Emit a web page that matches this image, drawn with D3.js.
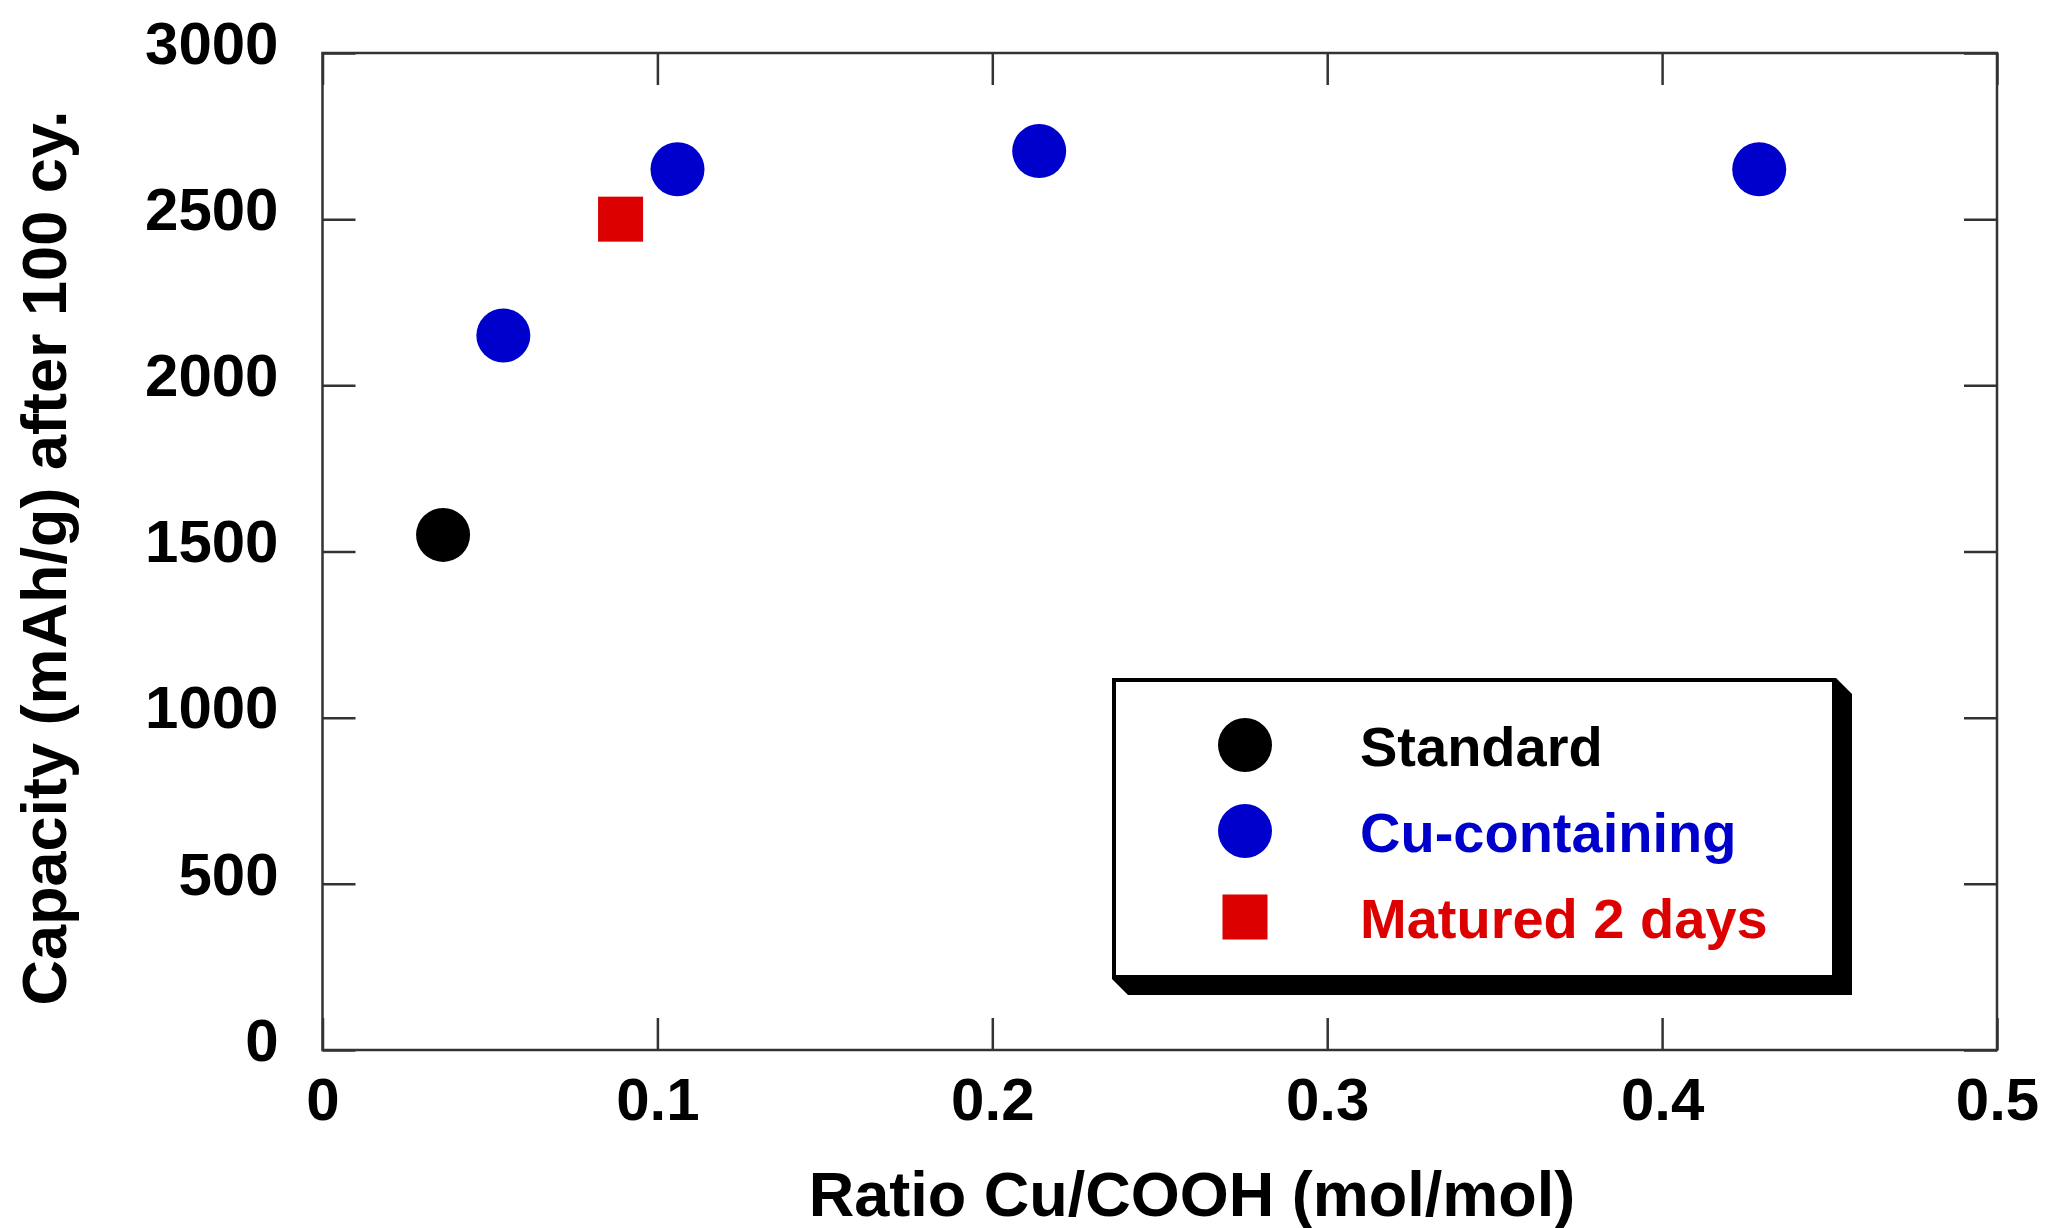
<!DOCTYPE html>
<html>
<head>
<meta charset="utf-8">
<script src="https://cdn.jsdelivr.net/npm/d3@7"></script>
<style>
  html, body { margin: 0; padding: 0; background: #fff; }
  svg text { font-family: "Liberation Sans", Arial, sans-serif; font-weight: bold; }
</style>
</head>
<body>
<svg id="chart" width="2046" height="1228"></svg>
<script>
// Data
const standardX = [0.036];
const standardY = [1550];
const cuX = [0.054, 0.106, 0.214, 0.429];
const cuY = [2150, 2650, 2705, 2650];
const maturedX = [0.089];
const maturedY = [2500];

const xTicks = [0, 0.1, 0.2, 0.3, 0.4, 0.5];
const yTicks = [0, 500, 1000, 1500, 2000, 2500, 3000];
const legendLabels = ['Standard', 'Cu-containing', 'Matured 2 days'];

const BLUE = '#0000CC', RED = '#DD0000', BLACK = '#000000';

const svg = d3.select('#chart');
const pL = 322.5, pR = 1997, pT = 53, pB = 1050;

const x = d3.scaleLinear().domain([0, 0.5]).range([pL, pR]);
const y = d3.scaleLinear().domain([0, 3000]).range([pB, pT]);

const fmtX = d => d === 0 ? '0' : d3.format('.1f')(d);
const fmtY = d3.format('d');

// Axes — inward ticks on all four sides
const axX = svg.append('g').attr('transform', `translate(0,${pB})`)
  .call(d3.axisBottom(x).tickValues(xTicks).tickSize(-32).tickPadding(27).tickFormat(fmtX));
const axXT = svg.append('g').attr('transform', `translate(0,${pT})`)
  .call(d3.axisTop(x).tickValues(xTicks).tickSize(-32).tickFormat(''));
const axY = svg.append('g').attr('transform', `translate(${pL},0)`)
  .call(d3.axisLeft(y).tickValues(yTicks).tickSize(-33).tickPadding(44).tickFormat(fmtY));
const axYR = svg.append('g').attr('transform', `translate(${pR},0)`)
  .call(d3.axisRight(y).tickValues(yTicks).tickSize(-33).tickFormat(''));

[axX, axXT, axY, axYR].forEach(a => {
  a.select('.domain').remove();
  a.selectAll('.tick line').attr('stroke', '#333').attr('stroke-width', 2.5);
  a.selectAll('.tick text').attr('fill', '#000').attr('font-size', 60);
});
axY.selectAll('.tick text').attr('dy', '0.17em');

// Frame
svg.append('rect')
  .attr('x', pL).attr('y', pT)
  .attr('width', pR - pL).attr('height', pB - pT)
  .attr('fill', 'none').attr('stroke', '#333').attr('stroke-width', 2.5);

// Axis titles
svg.append('text')
  .attr('x', 1192).attr('y', 1216)
  .attr('text-anchor', 'middle').attr('font-size', 63).attr('fill', '#000')
  .text('Ratio Cu/COOH (mol/mol)');

svg.append('text')
  .attr('transform', 'translate(66,558) rotate(-90)')
  .attr('text-anchor', 'middle').attr('font-size', 63).attr('fill', '#000')
  .text('Capacity (mAh/g) after 100 cy.');

// Markers
const R = 27, SQ = 45;
const plot = svg.append('g');

plot.selectAll('circle.std')
  .data(standardX.map((v, i) => [v, standardY[i]]))
  .join('circle').attr('class', 'std')
  .attr('cx', d => x(d[0])).attr('cy', d => y(d[1])).attr('r', R)
  .attr('fill', BLACK);

plot.selectAll('circle.cu')
  .data(cuX.map((v, i) => [v, cuY[i]]))
  .join('circle').attr('class', 'cu')
  .attr('cx', d => x(d[0])).attr('cy', d => y(d[1])).attr('r', R)
  .attr('fill', BLUE);

plot.selectAll('rect.mat')
  .data(maturedX.map((v, i) => [v, maturedY[i]]))
  .join('rect').attr('class', 'mat')
  .attr('x', d => x(d[0]) - SQ / 2).attr('y', d => y(d[1]) - SQ / 2)
  .attr('width', SQ).attr('height', SQ)
  .attr('fill', RED);

// Legend box with 3D shadow
const lx0 = 1112, ly0 = 678, lx1 = 1836, ly1 = 979, sh = 16;
const lg = svg.append('g');
lg.append('path')
  .attr('d', `M${lx1},${ly0} L${lx1 + sh},${ly0 + sh} L${lx1 + sh},${ly1 + sh} ` +
             `L${lx0 + sh},${ly1 + sh} L${lx0},${ly1} Z`)
  .attr('fill', '#000');
lg.append('rect')
  .attr('x', lx0 + 2).attr('y', ly0 + 2)
  .attr('width', lx1 - lx0 - 4).attr('height', ly1 - ly0 - 4)
  .attr('fill', '#fff').attr('stroke', '#000').attr('stroke-width', 4);

const legendColors = [BLACK, BLUE, RED];
const legendY = [745, 831, 917];
legendLabels.forEach((lab, i) => {
  if (i < 2) {
    lg.append('circle').attr('cx', 1245).attr('cy', legendY[i]).attr('r', R)
      .attr('fill', legendColors[i]);
  } else {
    lg.append('rect').attr('x', 1245 - SQ / 2).attr('y', legendY[i] - SQ / 2)
      .attr('width', SQ).attr('height', SQ).attr('fill', legendColors[i]);
  }
  lg.append('text')
    .attr('x', 1360).attr('y', legendY[i] + 21)
    .attr('font-size', 56).attr('fill', legendColors[i])
    .text(lab);
});
</script>
</body>
</html>
